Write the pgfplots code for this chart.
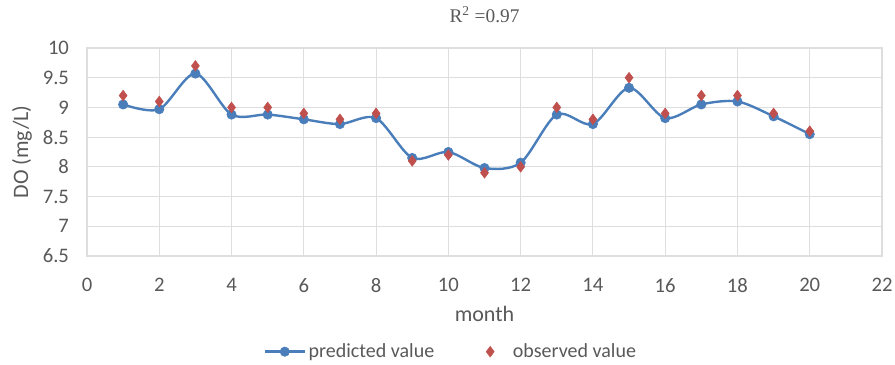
\documentclass[border=0pt]{standalone}
\usepackage{fontspec}
\setmainfont{Carlito}
\newfontfamily\titlefont{Liberation Serif}
\usepackage{pgfplots}
\pgfplotsset{compat=1.18}
\definecolor{predblue}{RGB}{74,126,187}
\definecolor{obsred}{RGB}{192,80,77}
\definecolor{txtgray}{RGB}{89,89,89}
\definecolor{gridgray}{RGB}{222,222,222}
\pgfplotsset{
  predleg/.style={legend image code/.code={\draw[mark repeat=2,mark phase=2,##1] plot coordinates {(0pt,0pt) (15pt,0pt) (30pt,0pt)};}},
}
\begin{document}
\begin{tikzpicture}
\path[use as bounding box] (-65.25pt,-81pt) rectangle (606pt,192pt);
\begin{axis}[
  at={(0,0)}, anchor=south west,
  scale only axis,
  width=596.25pt, height=156pt,
  xmin=0, xmax=22, ymin=6.5, ymax=10,
  xtick={0,2,...,22},
  ytick={6.5,7,...,10},
  yticklabels={6.5,7,7.5,8,8.5,9,9.5,10},
  /pgf/number format/assume math mode=true,
  grid=major,
  major grid style={gridgray, line width=0.8pt},
  axis line style={gridgray, line width=0.8pt},
  tick style={draw=none},
  ticklabel style={font=\fontsize{15.5}{17}\selectfont, text=txtgray},
  xticklabel style={yshift=-13pt},
  yticklabel style={xshift=-10pt},
  xlabel={month},
  ylabel={DO (mg/L)},
  label style={font=\fontsize{16.5}{18}\selectfont, text=txtgray},
  xlabel style={at={(rel axis cs:0.5,0)}, anchor=center, yshift=-43.5pt},
  ylabel style={at={(rel axis cs:0,0.5)}, anchor=center, yshift=48.75pt},
  legend style={at={(0.458,-0.46)}, anchor=center, draw=none, fill=none,
    font=\fontsize{15}{17}\selectfont, text=txtgray,
    /tikz/every even column/.append style={column sep=25pt}},
  legend columns=2,
  predleg,
  clip=false,
]
\addplot[smooth, color=predblue, line width=1.8pt, mark=*, mark size=3.5pt,
  mark options={fill=predblue, draw=predblue, line width=0.5pt}] coordinates {
  (1,9.05) (2,8.97) (3,9.57) (4,8.88) (5,8.88) (6,8.80) (7,8.72) (8,8.82)
  (9,8.15) (10,8.25) (11,7.98) (12,8.07) (13,8.88) (14,8.72) (15,9.33)
  (16,8.82) (17,9.05) (18,9.10) (19,8.85) (20,8.55)};
\addlegendentry{predicted value}
\addplot[draw=none, mark=diamond*, mark size=4pt,
  mark options={fill=obsred, draw=obsred},
  legend image code/.code={\draw[draw=none, mark repeat=2, mark phase=2, mark=diamond*, mark size=4pt, mark options={fill=obsred, draw=obsred}] plot coordinates {(0pt,0pt) (15pt,0pt) (30pt,0pt)};}] coordinates {
  (1,9.2) (2,9.1) (3,9.7) (4,9.0) (5,9.0) (6,8.9) (7,8.8) (8,8.9)
  (9,8.1) (10,8.2) (11,7.9) (12,8.0) (13,9.0) (14,8.8) (15,9.5)
  (16,8.9) (17,9.2) (18,9.2) (19,8.9) (20,8.6)};
\addlegendentry{observed value}
\node[font=\titlefont\fontsize{14.5}{16}\selectfont, text=txtgray, anchor=center]
  at (rel axis cs:0.5,1) [yshift=24.75pt] {R\textsuperscript{2} =0.97};
\end{axis}
\end{tikzpicture}
\end{document}
